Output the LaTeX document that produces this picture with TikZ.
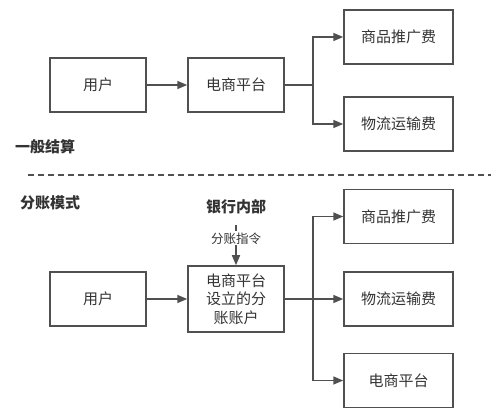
\documentclass[tikz,border=0pt]{standalone}
\usepackage{fontspec}
\setmainfont{Noto Sans CJK SC}
\usetikzlibrary{arrows.meta}
\definecolor{lc}{HTML}{505050}
\definecolor{tc}{HTML}{333333}
\tikzset{
  bx/.style={draw=lc, line width=1.5pt, minimum width=96pt, minimum height=54pt, inner sep=0pt, text=tc, font=\fontsize{15}{18.5}\selectfont, align=center},
  rbx/.style={bx, minimum width=109pt},
  conn/.style={draw=lc, line width=1.5pt, -{Triangle[length=10pt,width=8pt]}},
  plain/.style={draw=lc, line width=1.5pt},
  ttl/.style={text=tc, font=\fontsize{15}{18}\bfseries\selectfont, inner sep=0pt}
}
\begin{document}
\begin{tikzpicture}[x=1pt,y=-1pt]
\useasboundingbox (0,0) rectangle (491,419);
% top section
\node[bx] (u1) at (98,85) {用户};
\node[bx] (p1) at (236,85) {电商平台};
\node[rbx] (a1) at (398.5,37) {商品推广费};
\node[rbx] (b1) at (398.5,124) {物流运输费};
\coordinate (j1) at (313,85);
\draw[conn] (u1) -- (p1);
\draw[plain] (p1.east) -- (j1);
\draw[conn] (j1) |- (a1.west);
\draw[conn] (j1) |- (b1.west);
\node[ttl, anchor=west] (t1) at (15,147) {一般结算};
% dashed separator
\coordinate (d1) at (28,175);
\coordinate (d2) at (491,175);
\draw[lc, line width=1.2pt, dash pattern=on 6pt off 4pt] (d1) -- (d2);
% bottom section
\node[ttl, anchor=west] (t2) at (20,203) {分账模式};
\node[ttl] (bank) at (236,207) {银行内部};
\node[bx] (u2) at (98,299) {用户};
\node[bx, minimum height=66pt] (p2) at (236,299) {电商平台\\设立的分\\账账户};
\node[rbx] (a2) at (398.5,216.5) {商品推广费};
\node[rbx] (b2) at (398.5,299) {物流运输费};
\node[rbx] (c2) at (398.5,380.5) {电商平台};
\coordinate (s2) at (236,225);
\coordinate (j2) at (313,299);
\draw[conn] (s2) -- node[pos=0.33, fill=white, inner sep=1pt, text=tc, font=\fontsize{12.5}{14}\selectfont] (lab) {分账指令} (p2.north);
\draw[conn] (u2) -- (p2);
\draw[plain] (p2.east) -- (j2);
\draw[conn] (j2) |- (a2.west);
\draw[conn] (j2) -- (b2.west);
\draw[conn] (j2) |- (c2.west);
\end{tikzpicture}
\end{document}
